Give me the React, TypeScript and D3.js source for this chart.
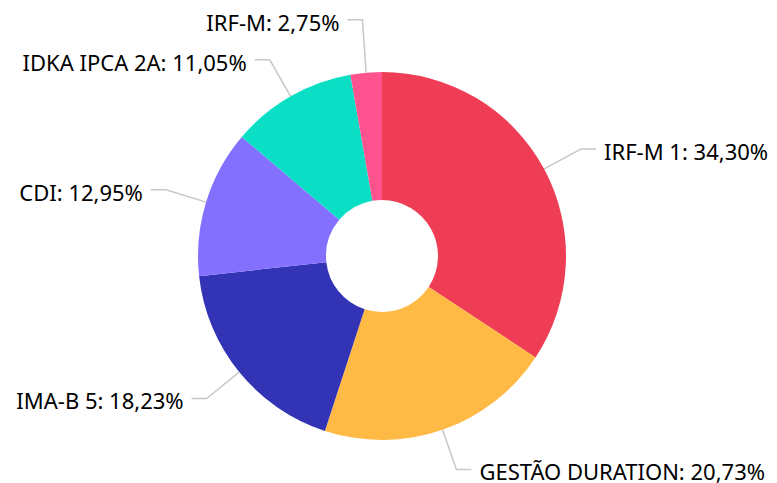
import React from "react";
import * as d3 from "d3";

const categories = ["IRF-M 1", "GESTÃO DURATION", "IMA-B 5", "CDI", "IDKA IPCA 2A", "IRF-M"];
const values = [34.3, 20.73, 18.23, 12.95, 11.05, 2.75];
const labels = ["34,30%", "20,73%", "18,23%", "12,95%", "11,05%", "2,75%"];
const colors = ["#EF3D55", "#FFBA45", "#3333B5", "#8470FF", "#0ADFC6", "#FF5390"];

const W = 777;
const H = 483;
const CX = 382;
const CY = 256;
const R = 184;
const R_IN = 56;
const BEND = 42;
const TICK = 15;
const GAP = 8;
const MIN_SPACING = 40;

export default function App() {
  const pie = d3.pie<number>().value((d) => d).sort(null);
  const arcs = pie(values);
  const arcGen = d3.arc<d3.PieArcDatum<number>>().innerRadius(R_IN).outerRadius(R);

  const items = arcs.map((a, i) => {
    const mid = (a.startAngle + a.endAngle) / 2;
    const ex = Math.sin(mid) * R;
    const ey = -Math.cos(mid) * R;
    const bx = Math.sin(mid) * (R + BEND);
    const by = -Math.cos(mid) * (R + BEND);
    const right = Math.sin(mid) >= 0;
    return { i, a, mid, ex, ey, bx, by, right };
  });

  // simple collision avoidance for each side (pushing upward labels up)
  [true, false].forEach((side) => {
    const group = items.filter((d) => d.right === side).sort((p, q) => q.by - p.by);
    for (let k = 1; k < group.length; k++) {
      const prev = group[k - 1];
      const cur = group[k];
      if (prev.by - cur.by < MIN_SPACING) cur.by = prev.by - MIN_SPACING;
    }
  });

  return (
    <div style={{ position: "fixed", left: 0, top: 0 }}>
      <svg width={W} height={H} style={{ display: "block" }}>
        <rect width={W} height={H} fill="#ffffff" />
        <g transform={`translate(${CX},${CY})`}>
          {arcs.map((a, i) => (
            <path key={i} d={arcGen(a) || ""} fill={colors[i]} />
          ))}
          {items.map((d) => {
            const hx = d.right ? d.bx + TICK : d.bx - TICK;
            const tx = d.right ? hx + GAP : hx - GAP;
            return (
              <g key={d.i}>
                <polyline
                  points={`${d.ex},${d.ey} ${d.bx},${d.by} ${hx},${d.by}`}
                  fill="none"
                  stroke="#c8c8c8"
                  strokeWidth={1.5}
                />
                <text
                  x={tx}
                  y={d.by + 3}
                  dy="0.35em"
                  textAnchor={d.right ? "start" : "end"}
                  fontFamily="'Noto Sans', sans-serif"
                  fontSize={22}
                  fill="#000000"
                >
                  {`${categories[d.i]}: ${labels[d.i]}`}
                </text>
              </g>
            );
          })}
        </g>
      </svg>
    </div>
  );
}
